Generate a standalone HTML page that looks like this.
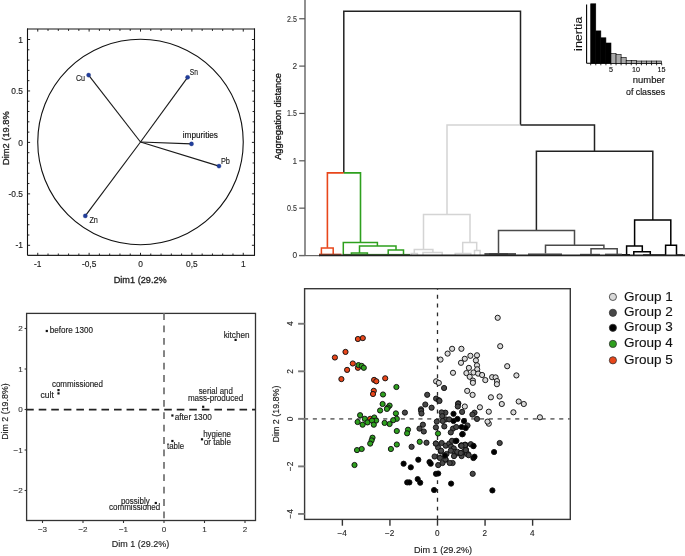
<!DOCTYPE html>
<html><head><meta charset="utf-8"><style>
html,body{margin:0;padding:0;background:#fff;}
svg{display:block;font-family:"Liberation Sans", sans-serif;will-change:transform;}
</style></head><body>
<svg width="685" height="556" viewBox="0 0 685 556">
<rect width="685" height="556" fill="#fff"/>
<line x1="27.00" y1="29.00" x2="255.00" y2="29.00" stroke="#8a8a8a" stroke-width="2.0"/>
<line x1="27.50" y1="28.50" x2="27.50" y2="255.40" stroke="#111" stroke-width="1.1"/>
<line x1="254.50" y1="28.50" x2="254.50" y2="255.40" stroke="#111" stroke-width="1.1"/>
<line x1="27.50" y1="255.40" x2="255.00" y2="255.40" stroke="#222" stroke-width="1.3"/>
<line x1="37.75" y1="29.00" x2="37.75" y2="31.60" stroke="#222" stroke-width="1"/>
<line x1="37.75" y1="255.40" x2="37.75" y2="252.80" stroke="#222" stroke-width="1"/>
<line x1="27.50" y1="245.30" x2="30.10" y2="245.30" stroke="#222" stroke-width="1"/>
<line x1="254.50" y1="245.30" x2="251.90" y2="245.30" stroke="#222" stroke-width="1"/>
<line x1="48.02" y1="29.00" x2="48.02" y2="30.90" stroke="#222" stroke-width="1"/>
<line x1="48.02" y1="255.40" x2="48.02" y2="253.50" stroke="#222" stroke-width="1"/>
<line x1="27.50" y1="235.01" x2="29.40" y2="235.01" stroke="#222" stroke-width="1"/>
<line x1="254.50" y1="235.01" x2="252.60" y2="235.01" stroke="#222" stroke-width="1"/>
<line x1="58.30" y1="29.00" x2="58.30" y2="30.90" stroke="#222" stroke-width="1"/>
<line x1="58.30" y1="255.40" x2="58.30" y2="253.50" stroke="#222" stroke-width="1"/>
<line x1="27.50" y1="224.72" x2="29.40" y2="224.72" stroke="#222" stroke-width="1"/>
<line x1="254.50" y1="224.72" x2="252.60" y2="224.72" stroke="#222" stroke-width="1"/>
<line x1="68.57" y1="29.00" x2="68.57" y2="30.90" stroke="#222" stroke-width="1"/>
<line x1="68.57" y1="255.40" x2="68.57" y2="253.50" stroke="#222" stroke-width="1"/>
<line x1="27.50" y1="214.43" x2="29.40" y2="214.43" stroke="#222" stroke-width="1"/>
<line x1="254.50" y1="214.43" x2="252.60" y2="214.43" stroke="#222" stroke-width="1"/>
<line x1="78.85" y1="29.00" x2="78.85" y2="30.90" stroke="#222" stroke-width="1"/>
<line x1="78.85" y1="255.40" x2="78.85" y2="253.50" stroke="#222" stroke-width="1"/>
<line x1="27.50" y1="204.14" x2="29.40" y2="204.14" stroke="#222" stroke-width="1"/>
<line x1="254.50" y1="204.14" x2="252.60" y2="204.14" stroke="#222" stroke-width="1"/>
<line x1="89.12" y1="29.00" x2="89.12" y2="31.60" stroke="#222" stroke-width="1"/>
<line x1="89.12" y1="255.40" x2="89.12" y2="252.80" stroke="#222" stroke-width="1"/>
<line x1="27.50" y1="193.85" x2="30.10" y2="193.85" stroke="#222" stroke-width="1"/>
<line x1="254.50" y1="193.85" x2="251.90" y2="193.85" stroke="#222" stroke-width="1"/>
<line x1="99.40" y1="29.00" x2="99.40" y2="30.90" stroke="#222" stroke-width="1"/>
<line x1="99.40" y1="255.40" x2="99.40" y2="253.50" stroke="#222" stroke-width="1"/>
<line x1="27.50" y1="183.56" x2="29.40" y2="183.56" stroke="#222" stroke-width="1"/>
<line x1="254.50" y1="183.56" x2="252.60" y2="183.56" stroke="#222" stroke-width="1"/>
<line x1="109.67" y1="29.00" x2="109.67" y2="30.90" stroke="#222" stroke-width="1"/>
<line x1="109.67" y1="255.40" x2="109.67" y2="253.50" stroke="#222" stroke-width="1"/>
<line x1="27.50" y1="173.27" x2="29.40" y2="173.27" stroke="#222" stroke-width="1"/>
<line x1="254.50" y1="173.27" x2="252.60" y2="173.27" stroke="#222" stroke-width="1"/>
<line x1="119.95" y1="29.00" x2="119.95" y2="30.90" stroke="#222" stroke-width="1"/>
<line x1="119.95" y1="255.40" x2="119.95" y2="253.50" stroke="#222" stroke-width="1"/>
<line x1="27.50" y1="162.98" x2="29.40" y2="162.98" stroke="#222" stroke-width="1"/>
<line x1="254.50" y1="162.98" x2="252.60" y2="162.98" stroke="#222" stroke-width="1"/>
<line x1="130.22" y1="29.00" x2="130.22" y2="30.90" stroke="#222" stroke-width="1"/>
<line x1="130.22" y1="255.40" x2="130.22" y2="253.50" stroke="#222" stroke-width="1"/>
<line x1="27.50" y1="152.69" x2="29.40" y2="152.69" stroke="#222" stroke-width="1"/>
<line x1="254.50" y1="152.69" x2="252.60" y2="152.69" stroke="#222" stroke-width="1"/>
<line x1="140.50" y1="29.00" x2="140.50" y2="31.60" stroke="#222" stroke-width="1"/>
<line x1="140.50" y1="255.40" x2="140.50" y2="252.80" stroke="#222" stroke-width="1"/>
<line x1="27.50" y1="142.40" x2="30.10" y2="142.40" stroke="#222" stroke-width="1"/>
<line x1="254.50" y1="142.40" x2="251.90" y2="142.40" stroke="#222" stroke-width="1"/>
<line x1="150.78" y1="29.00" x2="150.78" y2="30.90" stroke="#222" stroke-width="1"/>
<line x1="150.78" y1="255.40" x2="150.78" y2="253.50" stroke="#222" stroke-width="1"/>
<line x1="27.50" y1="132.11" x2="29.40" y2="132.11" stroke="#222" stroke-width="1"/>
<line x1="254.50" y1="132.11" x2="252.60" y2="132.11" stroke="#222" stroke-width="1"/>
<line x1="161.05" y1="29.00" x2="161.05" y2="30.90" stroke="#222" stroke-width="1"/>
<line x1="161.05" y1="255.40" x2="161.05" y2="253.50" stroke="#222" stroke-width="1"/>
<line x1="27.50" y1="121.82" x2="29.40" y2="121.82" stroke="#222" stroke-width="1"/>
<line x1="254.50" y1="121.82" x2="252.60" y2="121.82" stroke="#222" stroke-width="1"/>
<line x1="171.32" y1="29.00" x2="171.32" y2="30.90" stroke="#222" stroke-width="1"/>
<line x1="171.32" y1="255.40" x2="171.32" y2="253.50" stroke="#222" stroke-width="1"/>
<line x1="27.50" y1="111.53" x2="29.40" y2="111.53" stroke="#222" stroke-width="1"/>
<line x1="254.50" y1="111.53" x2="252.60" y2="111.53" stroke="#222" stroke-width="1"/>
<line x1="181.60" y1="29.00" x2="181.60" y2="30.90" stroke="#222" stroke-width="1"/>
<line x1="181.60" y1="255.40" x2="181.60" y2="253.50" stroke="#222" stroke-width="1"/>
<line x1="27.50" y1="101.24" x2="29.40" y2="101.24" stroke="#222" stroke-width="1"/>
<line x1="254.50" y1="101.24" x2="252.60" y2="101.24" stroke="#222" stroke-width="1"/>
<line x1="191.88" y1="29.00" x2="191.88" y2="31.60" stroke="#222" stroke-width="1"/>
<line x1="191.88" y1="255.40" x2="191.88" y2="252.80" stroke="#222" stroke-width="1"/>
<line x1="27.50" y1="90.95" x2="30.10" y2="90.95" stroke="#222" stroke-width="1"/>
<line x1="254.50" y1="90.95" x2="251.90" y2="90.95" stroke="#222" stroke-width="1"/>
<line x1="202.15" y1="29.00" x2="202.15" y2="30.90" stroke="#222" stroke-width="1"/>
<line x1="202.15" y1="255.40" x2="202.15" y2="253.50" stroke="#222" stroke-width="1"/>
<line x1="27.50" y1="80.66" x2="29.40" y2="80.66" stroke="#222" stroke-width="1"/>
<line x1="254.50" y1="80.66" x2="252.60" y2="80.66" stroke="#222" stroke-width="1"/>
<line x1="212.43" y1="29.00" x2="212.43" y2="30.90" stroke="#222" stroke-width="1"/>
<line x1="212.43" y1="255.40" x2="212.43" y2="253.50" stroke="#222" stroke-width="1"/>
<line x1="27.50" y1="70.37" x2="29.40" y2="70.37" stroke="#222" stroke-width="1"/>
<line x1="254.50" y1="70.37" x2="252.60" y2="70.37" stroke="#222" stroke-width="1"/>
<line x1="222.70" y1="29.00" x2="222.70" y2="30.90" stroke="#222" stroke-width="1"/>
<line x1="222.70" y1="255.40" x2="222.70" y2="253.50" stroke="#222" stroke-width="1"/>
<line x1="27.50" y1="60.08" x2="29.40" y2="60.08" stroke="#222" stroke-width="1"/>
<line x1="254.50" y1="60.08" x2="252.60" y2="60.08" stroke="#222" stroke-width="1"/>
<line x1="232.98" y1="29.00" x2="232.98" y2="30.90" stroke="#222" stroke-width="1"/>
<line x1="232.98" y1="255.40" x2="232.98" y2="253.50" stroke="#222" stroke-width="1"/>
<line x1="27.50" y1="49.79" x2="29.40" y2="49.79" stroke="#222" stroke-width="1"/>
<line x1="254.50" y1="49.79" x2="252.60" y2="49.79" stroke="#222" stroke-width="1"/>
<line x1="243.25" y1="29.00" x2="243.25" y2="31.60" stroke="#222" stroke-width="1"/>
<line x1="243.25" y1="255.40" x2="243.25" y2="252.80" stroke="#222" stroke-width="1"/>
<line x1="27.50" y1="39.50" x2="30.10" y2="39.50" stroke="#222" stroke-width="1"/>
<line x1="254.50" y1="39.50" x2="251.90" y2="39.50" stroke="#222" stroke-width="1"/>
<circle cx="140.5" cy="142.0" r="102.75" fill="none" stroke="#111" stroke-width="1.1"/>
<line x1="140.50" y1="142.00" x2="88.60" y2="75.10" stroke="#1a1a1a" stroke-width="1.15"/>
<line x1="140.50" y1="142.00" x2="187.60" y2="77.30" stroke="#1a1a1a" stroke-width="1.15"/>
<line x1="140.50" y1="142.00" x2="191.50" y2="143.90" stroke="#1a1a1a" stroke-width="1.15"/>
<line x1="140.50" y1="142.00" x2="219.00" y2="166.10" stroke="#1a1a1a" stroke-width="1.15"/>
<line x1="140.50" y1="142.00" x2="85.30" y2="215.90" stroke="#1a1a1a" stroke-width="1.15"/>
<circle cx="88.6" cy="75.1" r="2.1" fill="#213e9c" stroke="#172d78" stroke-width="0.3"/>
<circle cx="187.6" cy="77.3" r="2.1" fill="#213e9c" stroke="#172d78" stroke-width="0.3"/>
<circle cx="191.5" cy="143.9" r="2.1" fill="#213e9c" stroke="#172d78" stroke-width="0.3"/>
<circle cx="219" cy="166.1" r="2.1" fill="#213e9c" stroke="#172d78" stroke-width="0.3"/>
<circle cx="85.3" cy="215.9" r="2.1" fill="#213e9c" stroke="#172d78" stroke-width="0.3"/>
<text x="75.9" y="80.9" font-size="8.6" textLength="9.2" lengthAdjust="spacingAndGlyphs" fill="#222" stroke="#222" stroke-width="0.15">Cu</text>
<text x="189.8" y="74.9" font-size="8.6" textLength="8.2" lengthAdjust="spacingAndGlyphs" fill="#222" stroke="#222" stroke-width="0.15">Sn</text>
<text x="182.8" y="137.8" font-size="8.2" textLength="35.2" lengthAdjust="spacingAndGlyphs" fill="#111" stroke="#111" stroke-width="0.15">impurities</text>
<text x="220.9" y="163.7" font-size="8.6" textLength="9.0" lengthAdjust="spacingAndGlyphs" fill="#222" stroke="#222" stroke-width="0.15">Pb</text>
<text x="89.4" y="222.6" font-size="8.6" textLength="8.5" lengthAdjust="spacingAndGlyphs" fill="#222" stroke="#222" stroke-width="0.15">Zn</text>
<text x="23.0" y="42.6" font-size="8.4" text-anchor="end" fill="#222" stroke="#222" stroke-width="0.15">1</text>
<text x="23.0" y="94.05" font-size="8.4" text-anchor="end" fill="#222" stroke="#222" stroke-width="0.15">0.5</text>
<text x="23.0" y="145.5" font-size="8.4" text-anchor="end" fill="#222" stroke="#222" stroke-width="0.15">0</text>
<text x="23.0" y="196.95000000000002" font-size="8.4" text-anchor="end" fill="#222" stroke="#222" stroke-width="0.15">-0.5</text>
<text x="23.0" y="248.4" font-size="8.4" text-anchor="end" fill="#222" stroke="#222" stroke-width="0.15">-1</text>
<text x="37.75" y="267.0" font-size="8.4" text-anchor="middle" fill="#222" stroke="#222" stroke-width="0.15">-1</text>
<text x="89.125" y="267.0" font-size="8.4" text-anchor="middle" fill="#222" stroke="#222" stroke-width="0.15">-0,5</text>
<text x="140.5" y="267.0" font-size="8.4" text-anchor="middle" fill="#222" stroke="#222" stroke-width="0.15">0</text>
<text x="191.875" y="267.0" font-size="8.4" text-anchor="middle" fill="#222" stroke="#222" stroke-width="0.15">0,5</text>
<text x="243.25" y="267.0" font-size="8.4" text-anchor="middle" fill="#222" stroke="#222" stroke-width="0.15">1</text>
<text x="113.7" y="282.6" font-size="9.2" textLength="53" lengthAdjust="spacingAndGlyphs" fill="#222" stroke="#222" stroke-width="0.3">Dim1 (29.2%</text>
<text transform="translate(8.9,164.9) rotate(-90)" x="0" y="0" font-size="9.3" textLength="53.6" lengthAdjust="spacingAndGlyphs" fill="#222" stroke="#222" stroke-width="0.3">Dim2 (19.8%</text>
<line x1="305.00" y1="0.00" x2="305.00" y2="256.00" stroke="#555" stroke-width="1.3"/>
<line x1="299.20" y1="255.50" x2="305.00" y2="255.50" stroke="#555" stroke-width="1.2"/>
<text x="297.0" y="258.4" font-size="8.3" text-anchor="end" fill="#333" stroke="#333" stroke-width="0.1">0</text>
<line x1="299.20" y1="208.15" x2="305.00" y2="208.15" stroke="#555" stroke-width="1.2"/>
<text x="297.0" y="211.05" font-size="8.3" text-anchor="end" textLength="9.9" lengthAdjust="spacingAndGlyphs" fill="#333" stroke="#333" stroke-width="0.1">0.5</text>
<line x1="299.20" y1="160.80" x2="305.00" y2="160.80" stroke="#555" stroke-width="1.2"/>
<text x="297.0" y="163.70000000000002" font-size="8.3" text-anchor="end" fill="#333" stroke="#333" stroke-width="0.1">1</text>
<line x1="299.20" y1="113.45" x2="305.00" y2="113.45" stroke="#555" stroke-width="1.2"/>
<text x="297.0" y="116.35" font-size="8.3" text-anchor="end" textLength="9.9" lengthAdjust="spacingAndGlyphs" fill="#333" stroke="#333" stroke-width="0.1">1.5</text>
<line x1="299.20" y1="66.10" x2="305.00" y2="66.10" stroke="#555" stroke-width="1.2"/>
<text x="297.0" y="69.0" font-size="8.3" text-anchor="end" fill="#333" stroke="#333" stroke-width="0.1">2</text>
<line x1="299.20" y1="18.75" x2="305.00" y2="18.75" stroke="#555" stroke-width="1.2"/>
<text x="297.0" y="21.65" font-size="8.3" text-anchor="end" textLength="9.9" lengthAdjust="spacingAndGlyphs" fill="#333" stroke="#333" stroke-width="0.1">2.5</text>
<text transform="translate(280.9,159.8) rotate(-90)" x="0" y="0" font-size="9.5" textLength="86.8" lengthAdjust="spacingAndGlyphs" fill="#111" stroke="#111" stroke-width="0.3">Aggregation distance</text>
<line x1="299.20" y1="255.60" x2="320.00" y2="255.60" stroke="#666" stroke-width="1.2"/>
<path d="M343.8,172.9 V11.2 H520.5 V125" fill="none" stroke="#222" stroke-width="1.5"/>
<path d="M327.4,247.7 V172.9 H343.8" fill="none" stroke="#e8461a" stroke-width="1.6"/>
<path d="M343.8,172.9 H360.5 V242.4" fill="none" stroke="#2ea01e" stroke-width="1.6"/>
<path d="M321.4,254 V247.9 H333.2 V254" fill="none" stroke="#e8461a" stroke-width="1.5"/>
<rect x="319" y="253.6" width="22.5" height="2.00" fill="#c0401c" opacity="0.9"/>
<path d="M343.3,255 V242.4 H377.4 V246.1" fill="none" stroke="#2ea01e" stroke-width="1.5"/>
<path d="M359.5,252.9 V246.1 H396.0 V249.9" fill="none" stroke="#2ea01e" stroke-width="1.5"/>
<path d="M351.4,254.5 V252.9 H367.4 V254.5" fill="none" stroke="#2ea01e" stroke-width="1.5"/>
<path d="M388.2,254.5 V249.9 H403.5 V254.5" fill="none" stroke="#2ea01e" stroke-width="1.5"/>
<rect x="343" y="253.9" width="67" height="1.70" fill="#2b7a1c" opacity="0.9"/>
<path d="M447,214.5 V125 H520.5" fill="none" stroke="#d4d4d4" stroke-width="1.5"/>
<path d="M423.5,249.6 V214.5 H470.0 V242.4" fill="none" stroke="#d4d4d4" stroke-width="1.5"/>
<path d="M414.3,253.4 V249.6 H432.9 V252.4" fill="none" stroke="#d4d4d4" stroke-width="1.5"/>
<path d="M411.2,255 V253.4 H417.4 V255" fill="none" stroke="#d4d4d4" stroke-width="1.5"/>
<path d="M423,255 V252.4 H442.2 V255" fill="none" stroke="#d4d4d4" stroke-width="1.5"/>
<path d="M462.7,253.4 V242.4 H476.7 V250.5" fill="none" stroke="#d4d4d4" stroke-width="1.5"/>
<path d="M455.2,255 V253.4 H470.8 V255" fill="none" stroke="#d4d4d4" stroke-width="1.5"/>
<path d="M474.5,255 V250.5 H480.1 V255" fill="none" stroke="#d4d4d4" stroke-width="1.5"/>
<path d="M520.5,125 H594.5 V151.3" fill="none" stroke="#222" stroke-width="1.5"/>
<path d="M536.4,230.5 V151.3 H652.8 V220" fill="none" stroke="#222" stroke-width="1.5"/>
<path d="M498.5,253.5 V230.5 H574.5 V245.3" fill="none" stroke="#4a4a4a" stroke-width="1.5"/>
<path d="M545.5,253.5 V245.3 H603.9 V248.7" fill="none" stroke="#4a4a4a" stroke-width="1.5"/>
<path d="M591.0,254 V248.7 H617.2 V254" fill="none" stroke="#4a4a4a" stroke-width="1.5"/>
<rect x="484.4" y="253.0" width="31.600000000000023" height="2.60" fill="#5a5a5a" opacity="1"/>
<rect x="489" y="253.0" width="19" height="2.60" fill="#444" opacity="1"/>
<rect x="528" y="253.4" width="34" height="2.20" fill="#5a5a5a" opacity="1"/>
<rect x="580" y="253.8" width="20" height="1.80" fill="#5a5a5a" opacity="1"/>
<rect x="605" y="253.6" width="17" height="2.00" fill="#5a5a5a" opacity="1"/>
<path d="M634.6,246.1 V220.0 H670.8 V245.3" fill="none" stroke="#000" stroke-width="1.5"/>
<path d="M626.6,255.3 V246.1 H642.3 V251.8" fill="none" stroke="#000" stroke-width="1.5"/>
<path d="M665.6,255.3 V245.3 H676.5 V255.3" fill="none" stroke="#000" stroke-width="1.5"/>
<path d="M633.8,255.3 V251.8 H650.3 V255.3" fill="none" stroke="#000" stroke-width="1.5"/>
<rect x="622" y="254.0" width="8" height="1.60" fill="#111" opacity="1"/>
<rect x="643" y="254.2" width="22" height="1.40" fill="#222" opacity="1"/>
<rect x="676" y="254.2" width="7" height="1.40" fill="#222" opacity="1"/>
<line x1="319.00" y1="255.40" x2="685.00" y2="255.40" stroke="#222" stroke-width="1.6"/>
<line x1="586.60" y1="4.40" x2="586.60" y2="63.30" stroke="#000" stroke-width="1.1"/>
<line x1="586.60" y1="63.30" x2="661.80" y2="63.30" stroke="#000" stroke-width="1.1"/>
<rect x="590.70" y="3.8" width="5.07" height="59.50" fill="#000" stroke="#000" stroke-width="0.6"/>
<rect x="595.77" y="30.9" width="5.07" height="32.40" fill="#000" stroke="#000" stroke-width="0.6"/>
<rect x="600.84" y="37.8" width="5.07" height="25.50" fill="#000" stroke="#000" stroke-width="0.6"/>
<rect x="605.91" y="43.0" width="5.07" height="20.30" fill="#000" stroke="#000" stroke-width="0.6"/>
<rect x="610.98" y="53.5" width="5.07" height="9.80" fill="#a8a8a8" stroke="#000" stroke-width="0.6"/>
<rect x="616.05" y="54.5" width="5.07" height="8.80" fill="#a8a8a8" stroke="#000" stroke-width="0.6"/>
<rect x="621.12" y="57.3" width="5.07" height="6.00" fill="#a8a8a8" stroke="#000" stroke-width="0.6"/>
<rect x="626.19" y="60.3" width="5.07" height="3.00" fill="#a8a8a8" stroke="#000" stroke-width="0.6"/>
<rect x="631.26" y="60.3" width="5.07" height="3.00" fill="#a8a8a8" stroke="#000" stroke-width="0.6"/>
<rect x="636.33" y="61" width="5.07" height="2.30" fill="#a8a8a8" stroke="#000" stroke-width="0.6"/>
<rect x="641.40" y="61" width="5.07" height="2.30" fill="#a8a8a8" stroke="#000" stroke-width="0.6"/>
<rect x="646.47" y="61" width="5.07" height="2.30" fill="#a8a8a8" stroke="#000" stroke-width="0.6"/>
<rect x="651.54" y="61" width="5.07" height="2.30" fill="#a8a8a8" stroke="#000" stroke-width="0.6"/>
<rect x="656.61" y="61" width="5.07" height="2.30" fill="#a8a8a8" stroke="#000" stroke-width="0.6"/>
<line x1="590.70" y1="63.30" x2="590.70" y2="65.30" stroke="#000" stroke-width="0.8"/>
<line x1="595.77" y1="63.30" x2="595.77" y2="65.30" stroke="#000" stroke-width="0.8"/>
<line x1="600.84" y1="63.30" x2="600.84" y2="65.30" stroke="#000" stroke-width="0.8"/>
<line x1="605.91" y1="63.30" x2="605.91" y2="65.30" stroke="#000" stroke-width="0.8"/>
<line x1="610.98" y1="63.30" x2="610.98" y2="65.30" stroke="#000" stroke-width="0.8"/>
<line x1="616.05" y1="63.30" x2="616.05" y2="65.30" stroke="#000" stroke-width="0.8"/>
<line x1="621.12" y1="63.30" x2="621.12" y2="65.30" stroke="#000" stroke-width="0.8"/>
<line x1="626.19" y1="63.30" x2="626.19" y2="65.30" stroke="#000" stroke-width="0.8"/>
<line x1="631.26" y1="63.30" x2="631.26" y2="65.30" stroke="#000" stroke-width="0.8"/>
<line x1="636.33" y1="63.30" x2="636.33" y2="65.30" stroke="#000" stroke-width="0.8"/>
<line x1="641.40" y1="63.30" x2="641.40" y2="65.30" stroke="#000" stroke-width="0.8"/>
<line x1="646.47" y1="63.30" x2="646.47" y2="65.30" stroke="#000" stroke-width="0.8"/>
<line x1="651.54" y1="63.30" x2="651.54" y2="65.30" stroke="#000" stroke-width="0.8"/>
<line x1="656.61" y1="63.30" x2="656.61" y2="65.30" stroke="#000" stroke-width="0.8"/>
<line x1="661.68" y1="63.30" x2="661.68" y2="65.30" stroke="#000" stroke-width="0.8"/>
<text x="611.1" y="72.4" font-size="7.2" text-anchor="middle" fill="#111" stroke="#111" stroke-width="0.15">5</text>
<text x="636.0" y="72.4" font-size="7.2" text-anchor="middle" fill="#111" stroke="#111" stroke-width="0.15">10</text>
<text x="661.6" y="72.4" font-size="7.2" text-anchor="middle" fill="#111" stroke="#111" stroke-width="0.15">15</text>
<text x="664.8" y="82.5" font-size="9.2" text-anchor="end" textLength="32" lengthAdjust="spacingAndGlyphs" fill="#111" stroke="#111" stroke-width="0.15">number</text>
<text x="665.1" y="95.0" font-size="9.2" text-anchor="end" textLength="39.1" lengthAdjust="spacingAndGlyphs" fill="#111" stroke="#111" stroke-width="0.15">of classes</text>
<text transform="translate(581.9,50.9) rotate(-90)" x="0" y="0" font-size="10.5" textLength="34.2" lengthAdjust="spacingAndGlyphs" fill="#111" stroke="#111" stroke-width="0.08">inertia</text>
<rect x="26.6" y="313.4" width="228.9" height="207.1" fill="none" stroke="#333" stroke-width="1.3"/>
<line x1="164.00" y1="313.10" x2="164.00" y2="520.60" stroke="#666" stroke-width="1.6" stroke-dasharray="6.8 5.6"/>
<line x1="26.15" y1="409.60" x2="255.00" y2="409.60" stroke="#222" stroke-width="1.6" stroke-dasharray="7.6 4.95"/>
<line x1="24.60" y1="328.50" x2="26.60" y2="328.50" stroke="#333" stroke-width="1.1"/>
<text x="22.8" y="331.0" font-size="8.1" text-anchor="end" fill="#333" stroke="#333" stroke-width="0.12">2</text>
<line x1="24.60" y1="369.00" x2="26.60" y2="369.00" stroke="#333" stroke-width="1.1"/>
<text x="22.8" y="371.5" font-size="8.1" text-anchor="end" fill="#333" stroke="#333" stroke-width="0.12">1</text>
<line x1="24.60" y1="409.50" x2="26.60" y2="409.50" stroke="#333" stroke-width="1.1"/>
<text x="22.8" y="412.0" font-size="8.1" text-anchor="end" fill="#333" stroke="#333" stroke-width="0.12">0</text>
<line x1="24.60" y1="450.00" x2="26.60" y2="450.00" stroke="#333" stroke-width="1.1"/>
<text x="22.8" y="452.5" font-size="8.1" text-anchor="end" fill="#333" stroke="#333" stroke-width="0.12">−1</text>
<line x1="24.60" y1="490.50" x2="26.60" y2="490.50" stroke="#333" stroke-width="1.1"/>
<text x="22.8" y="493.0" font-size="8.1" text-anchor="end" fill="#333" stroke="#333" stroke-width="0.12">−2</text>
<line x1="42.50" y1="520.60" x2="42.50" y2="523.00" stroke="#333" stroke-width="1.1"/>
<text x="42.5" y="531.6" font-size="8.1" text-anchor="middle" fill="#333" stroke="#333" stroke-width="0.12">−3</text>
<line x1="83.00" y1="520.60" x2="83.00" y2="523.00" stroke="#333" stroke-width="1.1"/>
<text x="83.0" y="531.6" font-size="8.1" text-anchor="middle" fill="#333" stroke="#333" stroke-width="0.12">−2</text>
<line x1="123.50" y1="520.60" x2="123.50" y2="523.00" stroke="#333" stroke-width="1.1"/>
<text x="123.5" y="531.6" font-size="8.1" text-anchor="middle" fill="#333" stroke="#333" stroke-width="0.12">−1</text>
<line x1="164.00" y1="520.60" x2="164.00" y2="523.00" stroke="#333" stroke-width="1.1"/>
<text x="164.0" y="531.6" font-size="8.1" text-anchor="middle" fill="#333" stroke="#333" stroke-width="0.12">0</text>
<line x1="204.50" y1="520.60" x2="204.50" y2="523.00" stroke="#333" stroke-width="1.1"/>
<text x="204.5" y="531.6" font-size="8.1" text-anchor="middle" fill="#333" stroke="#333" stroke-width="0.12">1</text>
<line x1="245.00" y1="520.60" x2="245.00" y2="523.00" stroke="#333" stroke-width="1.1"/>
<text x="245.0" y="531.6" font-size="8.1" text-anchor="middle" fill="#333" stroke="#333" stroke-width="0.12">2</text>
<text x="111.7" y="547.4" font-size="8.8" textLength="57.5" lengthAdjust="spacingAndGlyphs" fill="#222" stroke="#222" stroke-width="0.15">Dim 1 (29.2%)</text>
<text transform="translate(8.1,439.8) rotate(-90)" x="0" y="0" font-size="8.9" textLength="56.5" lengthAdjust="spacingAndGlyphs" fill="#222" stroke="#222" stroke-width="0.15">Dim 2 (19.8%)</text>
<rect x="45.70" y="329.90" width="2.2" height="2.2" fill="#111"/>
<rect x="234.50" y="338.80" width="2.2" height="2.2" fill="#111"/>
<rect x="57.40" y="389.00" width="2.2" height="2.2" fill="#111"/>
<rect x="57.40" y="392.30" width="2.2" height="2.2" fill="#111"/>
<rect x="202.10" y="405.70" width="2.2" height="2.2" fill="#111"/>
<rect x="171.30" y="414.40" width="2.2" height="2.2" fill="#111"/>
<rect x="200.90" y="438.20" width="2.2" height="2.2" fill="#111"/>
<rect x="171.30" y="439.90" width="2.2" height="2.2" fill="#111"/>
<rect x="154.70" y="501.90" width="2.2" height="2.2" fill="#111"/>
<text x="49.8" y="333.2" font-size="8.4" textLength="43.2" lengthAdjust="spacingAndGlyphs" fill="#222" stroke="#222" stroke-width="0.15">before 1300</text>
<text x="223.7" y="337.5" font-size="8.4" textLength="25.9" lengthAdjust="spacingAndGlyphs" fill="#222" stroke="#222" stroke-width="0.15">kitchen</text>
<text x="51.9" y="386.5" font-size="8.4" textLength="51.1" lengthAdjust="spacingAndGlyphs" fill="#222" stroke="#222" stroke-width="0.15">commissioned</text>
<text x="40.6" y="397.8" font-size="8.4" textLength="13.3" lengthAdjust="spacingAndGlyphs" fill="#222" stroke="#222" stroke-width="0.15">cult</text>
<text x="198.7" y="393.6" font-size="8.4" textLength="34.1" lengthAdjust="spacingAndGlyphs" fill="#222" stroke="#222" stroke-width="0.15">serial and</text>
<text x="187.9" y="400.5" font-size="8.4" textLength="55.3" lengthAdjust="spacingAndGlyphs" fill="#222" stroke="#222" stroke-width="0.15">mass-produced</text>
<text x="174.7" y="419.8" font-size="8.4" textLength="37.2" lengthAdjust="spacingAndGlyphs" fill="#222" stroke="#222" stroke-width="0.15">after 1300</text>
<text x="203.2" y="437.1" font-size="8.4" textLength="27.8" lengthAdjust="spacingAndGlyphs" fill="#222" stroke="#222" stroke-width="0.15">hygiene</text>
<text x="203.7" y="445.0" font-size="8.4" textLength="27.3" lengthAdjust="spacingAndGlyphs" fill="#222" stroke="#222" stroke-width="0.15">or table</text>
<text x="167" y="448.7" font-size="8.4" textLength="17.2" lengthAdjust="spacingAndGlyphs" fill="#222" stroke="#222" stroke-width="0.15">table</text>
<text x="120.9" y="504.0" font-size="8.4" textLength="28.9" lengthAdjust="spacingAndGlyphs" fill="#222" stroke="#222" stroke-width="0.15">possibly</text>
<text x="109" y="510.40000000000003" font-size="8.4" textLength="51.3" lengthAdjust="spacingAndGlyphs" fill="#222" stroke="#222" stroke-width="0.15">commissioned</text>
<rect x="304.6" y="288.7" width="265.7" height="230.7" fill="none" stroke="#383838" stroke-width="1.4"/>
<line x1="437.50" y1="519.40" x2="437.50" y2="289.00" stroke="#2a2a2a" stroke-width="1.3" stroke-dasharray="3.9 4.93"/>
<line x1="304.00" y1="418.85" x2="570.00" y2="418.85" stroke="#777" stroke-width="1.8" stroke-dasharray="4.1 4.7"/>
<line x1="342.38" y1="519.40" x2="342.38" y2="525.70" stroke="#333" stroke-width="1.4"/>
<text x="342.08" y="535.8" font-size="8.2" text-anchor="middle" fill="#222" stroke="#222" stroke-width="0.12">−4</text>
<line x1="298.10" y1="513.93" x2="304.60" y2="513.93" stroke="#7a7a7a" stroke-width="1.9"/>
<text transform="translate(292.9,513.93) rotate(-90)" x="0" y="0" font-size="8.4" text-anchor="middle" fill="#222" stroke="#222" stroke-width="0.12">−4</text>
<line x1="389.94" y1="519.40" x2="389.94" y2="525.70" stroke="#333" stroke-width="1.4"/>
<text x="389.64" y="535.8" font-size="8.2" text-anchor="middle" fill="#222" stroke="#222" stroke-width="0.12">−2</text>
<line x1="298.10" y1="466.39" x2="304.60" y2="466.39" stroke="#7a7a7a" stroke-width="1.9"/>
<text transform="translate(292.9,466.39) rotate(-90)" x="0" y="0" font-size="8.4" text-anchor="middle" fill="#222" stroke="#222" stroke-width="0.12">−2</text>
<line x1="437.50" y1="519.40" x2="437.50" y2="525.70" stroke="#333" stroke-width="1.4"/>
<text x="437.2" y="535.8" font-size="8.2" text-anchor="middle" fill="#222" stroke="#222" stroke-width="0.12">0</text>
<line x1="298.10" y1="418.85" x2="304.60" y2="418.85" stroke="#7a7a7a" stroke-width="1.9"/>
<text transform="translate(292.9,418.85) rotate(-90)" x="0" y="0" font-size="8.4" text-anchor="middle" fill="#222" stroke="#222" stroke-width="0.12">0</text>
<line x1="485.06" y1="519.40" x2="485.06" y2="525.70" stroke="#333" stroke-width="1.4"/>
<text x="484.76" y="535.8" font-size="8.2" text-anchor="middle" fill="#222" stroke="#222" stroke-width="0.12">2</text>
<line x1="298.10" y1="371.31" x2="304.60" y2="371.31" stroke="#7a7a7a" stroke-width="1.9"/>
<text transform="translate(292.9,371.31) rotate(-90)" x="0" y="0" font-size="8.4" text-anchor="middle" fill="#222" stroke="#222" stroke-width="0.12">2</text>
<line x1="532.62" y1="519.40" x2="532.62" y2="525.70" stroke="#333" stroke-width="1.4"/>
<text x="532.32" y="535.8" font-size="8.2" text-anchor="middle" fill="#222" stroke="#222" stroke-width="0.12">4</text>
<line x1="298.10" y1="323.77" x2="304.60" y2="323.77" stroke="#7a7a7a" stroke-width="1.9"/>
<text transform="translate(292.9,323.77) rotate(-90)" x="0" y="0" font-size="8.4" text-anchor="middle" fill="#222" stroke="#222" stroke-width="0.12">4</text>
<text x="413.9" y="552.7" font-size="8.6" textLength="58.2" lengthAdjust="spacingAndGlyphs" fill="#222" stroke="#222" stroke-width="0.15">Dim 1 (29.2%)</text>
<text transform="translate(279.3,442.4) rotate(-90)" x="0" y="0" font-size="8.8" textLength="56.8" lengthAdjust="spacingAndGlyphs" fill="#222" stroke="#222" stroke-width="0.15">Dim 2 (19.8%)</text>
<circle cx="497.7" cy="317.8" r="2.6" fill="#d9d9d9" stroke="#111" stroke-width="0.95"/>
<circle cx="452.1" cy="348.8" r="2.6" fill="#d9d9d9" stroke="#111" stroke-width="0.95"/>
<circle cx="461.4" cy="348.8" r="2.6" fill="#d9d9d9" stroke="#111" stroke-width="0.95"/>
<circle cx="500.2" cy="346.2" r="2.6" fill="#d9d9d9" stroke="#111" stroke-width="0.95"/>
<circle cx="447.6" cy="353.6" r="2.6" fill="#d9d9d9" stroke="#111" stroke-width="0.95"/>
<circle cx="440.5" cy="359.6" r="2.6" fill="#d9d9d9" stroke="#111" stroke-width="0.95"/>
<circle cx="464.8" cy="358.8" r="2.6" fill="#d9d9d9" stroke="#111" stroke-width="0.95"/>
<circle cx="461" cy="362.8" r="2.6" fill="#d9d9d9" stroke="#111" stroke-width="0.95"/>
<circle cx="470.4" cy="355.8" r="2.6" fill="#d9d9d9" stroke="#111" stroke-width="0.95"/>
<circle cx="477" cy="355.3" r="2.6" fill="#d9d9d9" stroke="#111" stroke-width="0.95"/>
<circle cx="475.9" cy="360.4" r="2.6" fill="#d9d9d9" stroke="#111" stroke-width="0.95"/>
<circle cx="477" cy="365.3" r="2.6" fill="#d9d9d9" stroke="#111" stroke-width="0.95"/>
<circle cx="468.9" cy="367.9" r="2.6" fill="#d9d9d9" stroke="#111" stroke-width="0.95"/>
<circle cx="477.2" cy="369.3" r="2.6" fill="#d9d9d9" stroke="#111" stroke-width="0.95"/>
<circle cx="466.4" cy="373.1" r="2.6" fill="#d9d9d9" stroke="#111" stroke-width="0.95"/>
<circle cx="473.5" cy="372.5" r="2.6" fill="#d9d9d9" stroke="#111" stroke-width="0.95"/>
<circle cx="478.1" cy="373.6" r="2.6" fill="#d9d9d9" stroke="#111" stroke-width="0.95"/>
<circle cx="482.1" cy="375" r="2.6" fill="#d9d9d9" stroke="#111" stroke-width="0.95"/>
<circle cx="469.7" cy="376.8" r="2.6" fill="#d9d9d9" stroke="#111" stroke-width="0.95"/>
<circle cx="485.3" cy="380.1" r="2.6" fill="#d9d9d9" stroke="#111" stroke-width="0.95"/>
<circle cx="472.9" cy="380.6" r="2.6" fill="#d9d9d9" stroke="#111" stroke-width="0.95"/>
<circle cx="472.9" cy="382.8" r="2.6" fill="#d9d9d9" stroke="#111" stroke-width="0.95"/>
<circle cx="453" cy="372.8" r="2.6" fill="#d9d9d9" stroke="#111" stroke-width="0.95"/>
<circle cx="492.1" cy="377.2" r="2.6" fill="#d9d9d9" stroke="#111" stroke-width="0.95"/>
<circle cx="495.6" cy="377.4" r="2.6" fill="#d9d9d9" stroke="#111" stroke-width="0.95"/>
<circle cx="497" cy="381.1" r="2.6" fill="#d9d9d9" stroke="#111" stroke-width="0.95"/>
<circle cx="467.2" cy="390.9" r="2.6" fill="#d9d9d9" stroke="#111" stroke-width="0.95"/>
<circle cx="472.6" cy="394.9" r="2.6" fill="#d9d9d9" stroke="#111" stroke-width="0.95"/>
<circle cx="490.9" cy="397.3" r="2.6" fill="#d9d9d9" stroke="#111" stroke-width="0.95"/>
<circle cx="436.1" cy="381.3" r="2.6" fill="#d9d9d9" stroke="#111" stroke-width="0.95"/>
<circle cx="438.8" cy="382.9" r="2.6" fill="#d9d9d9" stroke="#111" stroke-width="0.95"/>
<circle cx="507.2" cy="366.2" r="2.6" fill="#d9d9d9" stroke="#111" stroke-width="0.95"/>
<circle cx="516.4" cy="375.4" r="2.6" fill="#d9d9d9" stroke="#111" stroke-width="0.95"/>
<circle cx="499.6" cy="396.5" r="2.6" fill="#d9d9d9" stroke="#111" stroke-width="0.95"/>
<circle cx="501.8" cy="404" r="2.6" fill="#d9d9d9" stroke="#111" stroke-width="0.95"/>
<circle cx="518.7" cy="401.5" r="2.6" fill="#d9d9d9" stroke="#111" stroke-width="0.95"/>
<circle cx="523.8" cy="404" r="2.6" fill="#d9d9d9" stroke="#111" stroke-width="0.95"/>
<circle cx="513.4" cy="412.3" r="2.6" fill="#d9d9d9" stroke="#111" stroke-width="0.95"/>
<circle cx="539.9" cy="417.3" r="2.6" fill="#d9d9d9" stroke="#111" stroke-width="0.95"/>
<circle cx="464.8" cy="406.5" r="2.6" fill="#d9d9d9" stroke="#111" stroke-width="0.95"/>
<circle cx="479.9" cy="407.3" r="2.6" fill="#d9d9d9" stroke="#111" stroke-width="0.95"/>
<circle cx="488.8" cy="411.7" r="2.6" fill="#d9d9d9" stroke="#111" stroke-width="0.95"/>
<circle cx="488.8" cy="423.7" r="2.6" fill="#d9d9d9" stroke="#111" stroke-width="0.95"/>
<circle cx="487.5" cy="421.6" r="2.6" fill="#d9d9d9" stroke="#111" stroke-width="0.95"/>
<circle cx="496.9" cy="384.2" r="2.6" fill="#d9d9d9" stroke="#111" stroke-width="0.95"/>
<circle cx="427.2" cy="394.8" r="2.6" fill="#474747" stroke="#111" stroke-width="0.95"/>
<circle cx="425.3" cy="404.5" r="2.6" fill="#474747" stroke="#111" stroke-width="0.95"/>
<circle cx="431.6" cy="407.7" r="2.6" fill="#474747" stroke="#111" stroke-width="0.95"/>
<circle cx="436.1" cy="398.6" r="2.6" fill="#474747" stroke="#111" stroke-width="0.95"/>
<circle cx="438.8" cy="400.2" r="2.6" fill="#474747" stroke="#111" stroke-width="0.95"/>
<circle cx="421" cy="409.3" r="2.6" fill="#474747" stroke="#111" stroke-width="0.95"/>
<circle cx="444.1" cy="388" r="2.6" fill="#474747" stroke="#111" stroke-width="0.95"/>
<circle cx="458.3" cy="403.3" r="2.6" fill="#474747" stroke="#111" stroke-width="0.95"/>
<circle cx="458.1" cy="403.8" r="2.6" fill="#474747" stroke="#111" stroke-width="0.95"/>
<circle cx="457.8" cy="406.5" r="2.6" fill="#474747" stroke="#111" stroke-width="0.95"/>
<circle cx="462.1" cy="411.9" r="2.6" fill="#474747" stroke="#111" stroke-width="0.95"/>
<circle cx="474.5" cy="412.7" r="2.6" fill="#474747" stroke="#111" stroke-width="0.95"/>
<circle cx="472.4" cy="414.6" r="2.6" fill="#474747" stroke="#111" stroke-width="0.95"/>
<circle cx="477" cy="418.9" r="2.6" fill="#474747" stroke="#111" stroke-width="0.95"/>
<circle cx="445.4" cy="412.7" r="2.6" fill="#474747" stroke="#111" stroke-width="0.95"/>
<circle cx="441.6" cy="412.4" r="2.6" fill="#474747" stroke="#111" stroke-width="0.95"/>
<circle cx="442.2" cy="416.2" r="2.6" fill="#474747" stroke="#111" stroke-width="0.95"/>
<circle cx="445.9" cy="419.4" r="2.6" fill="#474747" stroke="#111" stroke-width="0.95"/>
<circle cx="449.2" cy="419.4" r="2.6" fill="#474747" stroke="#111" stroke-width="0.95"/>
<circle cx="442.7" cy="421" r="2.6" fill="#474747" stroke="#111" stroke-width="0.95"/>
<circle cx="444.3" cy="426.4" r="2.6" fill="#474747" stroke="#111" stroke-width="0.95"/>
<circle cx="453" cy="428.6" r="2.6" fill="#474747" stroke="#111" stroke-width="0.95"/>
<circle cx="450.8" cy="432.4" r="2.6" fill="#474747" stroke="#111" stroke-width="0.95"/>
<circle cx="456.2" cy="427" r="2.6" fill="#474747" stroke="#111" stroke-width="0.95"/>
<circle cx="467.5" cy="425.5" r="2.6" fill="#474747" stroke="#111" stroke-width="0.95"/>
<circle cx="435.8" cy="443.5" r="2.6" fill="#474747" stroke="#111" stroke-width="0.95"/>
<circle cx="441.7" cy="443" r="2.6" fill="#474747" stroke="#111" stroke-width="0.95"/>
<circle cx="445.7" cy="445.7" r="2.6" fill="#474747" stroke="#111" stroke-width="0.95"/>
<circle cx="449.3" cy="443.5" r="2.6" fill="#474747" stroke="#111" stroke-width="0.95"/>
<circle cx="452" cy="440.8" r="2.6" fill="#474747" stroke="#111" stroke-width="0.95"/>
<circle cx="451.1" cy="446.6" r="2.6" fill="#474747" stroke="#111" stroke-width="0.95"/>
<circle cx="453.8" cy="448.4" r="2.6" fill="#474747" stroke="#111" stroke-width="0.95"/>
<circle cx="438.1" cy="447.5" r="2.6" fill="#474747" stroke="#111" stroke-width="0.95"/>
<circle cx="440.8" cy="451.6" r="2.6" fill="#474747" stroke="#111" stroke-width="0.95"/>
<circle cx="439.9" cy="457.9" r="2.6" fill="#474747" stroke="#111" stroke-width="0.95"/>
<circle cx="445.7" cy="459.7" r="2.6" fill="#474747" stroke="#111" stroke-width="0.95"/>
<circle cx="454.3" cy="452" r="2.6" fill="#474747" stroke="#111" stroke-width="0.95"/>
<circle cx="457" cy="453.4" r="2.6" fill="#474747" stroke="#111" stroke-width="0.95"/>
<circle cx="461" cy="452.9" r="2.6" fill="#474747" stroke="#111" stroke-width="0.95"/>
<circle cx="461" cy="445.7" r="2.6" fill="#474747" stroke="#111" stroke-width="0.95"/>
<circle cx="465.5" cy="444.8" r="2.6" fill="#474747" stroke="#111" stroke-width="0.95"/>
<circle cx="466" cy="449.8" r="2.6" fill="#474747" stroke="#111" stroke-width="0.95"/>
<circle cx="468.2" cy="454.3" r="2.6" fill="#474747" stroke="#111" stroke-width="0.95"/>
<circle cx="461.6" cy="445.3" r="2.6" fill="#474747" stroke="#111" stroke-width="0.95"/>
<circle cx="464.8" cy="444.8" r="2.6" fill="#474747" stroke="#111" stroke-width="0.95"/>
<circle cx="470.8" cy="444.2" r="2.6" fill="#474747" stroke="#111" stroke-width="0.95"/>
<circle cx="450.8" cy="450.7" r="2.6" fill="#474747" stroke="#111" stroke-width="0.95"/>
<circle cx="457.3" cy="451.8" r="2.6" fill="#474747" stroke="#111" stroke-width="0.95"/>
<circle cx="463.7" cy="451.8" r="2.6" fill="#474747" stroke="#111" stroke-width="0.95"/>
<circle cx="467" cy="454" r="2.6" fill="#474747" stroke="#111" stroke-width="0.95"/>
<circle cx="441.1" cy="450.7" r="2.6" fill="#474747" stroke="#111" stroke-width="0.95"/>
<circle cx="446.5" cy="454" r="2.6" fill="#474747" stroke="#111" stroke-width="0.95"/>
<circle cx="499.7" cy="443" r="2.6" fill="#474747" stroke="#111" stroke-width="0.95"/>
<circle cx="454" cy="456.1" r="2.6" fill="#474747" stroke="#111" stroke-width="0.95"/>
<circle cx="461.6" cy="456.1" r="2.6" fill="#474747" stroke="#111" stroke-width="0.95"/>
<circle cx="404.9" cy="412.6" r="2.6" fill="#474747" stroke="#111" stroke-width="0.95"/>
<circle cx="421.1" cy="410.8" r="2.6" fill="#474747" stroke="#111" stroke-width="0.95"/>
<circle cx="421.5" cy="413.5" r="2.6" fill="#474747" stroke="#111" stroke-width="0.95"/>
<circle cx="422.9" cy="424.7" r="2.6" fill="#474747" stroke="#111" stroke-width="0.95"/>
<circle cx="419.5" cy="428.6" r="2.6" fill="#474747" stroke="#111" stroke-width="0.95"/>
<circle cx="423.8" cy="431.5" r="2.6" fill="#474747" stroke="#111" stroke-width="0.95"/>
<circle cx="436.8" cy="421.6" r="2.6" fill="#474747" stroke="#111" stroke-width="0.95"/>
<circle cx="435.9" cy="427.4" r="2.6" fill="#474747" stroke="#111" stroke-width="0.95"/>
<circle cx="426.5" cy="442.7" r="2.6" fill="#474747" stroke="#111" stroke-width="0.95"/>
<circle cx="411.6" cy="446.8" r="2.6" fill="#474747" stroke="#111" stroke-width="0.95"/>
<circle cx="435.9" cy="443.6" r="2.6" fill="#474747" stroke="#111" stroke-width="0.95"/>
<circle cx="439.5" cy="400.9" r="2.6" fill="#474747" stroke="#111" stroke-width="0.95"/>
<circle cx="434.6" cy="456.5" r="2.6" fill="#474747" stroke="#111" stroke-width="0.95"/>
<circle cx="438.2" cy="465.1" r="2.6" fill="#474747" stroke="#111" stroke-width="0.95"/>
<circle cx="442.5" cy="463" r="2.6" fill="#474747" stroke="#111" stroke-width="0.95"/>
<circle cx="445.4" cy="459.4" r="2.6" fill="#474747" stroke="#111" stroke-width="0.95"/>
<circle cx="452.6" cy="463" r="2.6" fill="#474747" stroke="#111" stroke-width="0.95"/>
<circle cx="449.7" cy="463" r="2.6" fill="#474747" stroke="#111" stroke-width="0.95"/>
<circle cx="472.7" cy="473.8" r="2.6" fill="#474747" stroke="#111" stroke-width="0.95"/>
<circle cx="465.1" cy="445.1" r="2.6" fill="#474747" stroke="#111" stroke-width="0.95"/>
<circle cx="461.5" cy="445.8" r="2.6" fill="#474747" stroke="#111" stroke-width="0.95"/>
<circle cx="465.8" cy="450.1" r="2.6" fill="#474747" stroke="#111" stroke-width="0.95"/>
<circle cx="468.7" cy="455.2" r="2.6" fill="#474747" stroke="#111" stroke-width="0.95"/>
<circle cx="460.8" cy="453" r="2.6" fill="#474747" stroke="#111" stroke-width="0.95"/>
<circle cx="403.6" cy="463.7" r="2.6" fill="#000000" stroke="#111" stroke-width="0.95"/>
<circle cx="410.8" cy="467.3" r="2.6" fill="#000000" stroke="#111" stroke-width="0.95"/>
<circle cx="418.3" cy="459.7" r="2.6" fill="#000000" stroke="#111" stroke-width="0.95"/>
<circle cx="429.5" cy="462" r="2.6" fill="#000000" stroke="#111" stroke-width="0.95"/>
<circle cx="430.7" cy="463.7" r="2.6" fill="#000000" stroke="#111" stroke-width="0.95"/>
<circle cx="436" cy="473.8" r="2.6" fill="#000000" stroke="#111" stroke-width="0.95"/>
<circle cx="438.2" cy="473.5" r="2.6" fill="#000000" stroke="#111" stroke-width="0.95"/>
<circle cx="407.2" cy="482.4" r="2.6" fill="#000000" stroke="#111" stroke-width="0.95"/>
<circle cx="409.4" cy="482.4" r="2.6" fill="#000000" stroke="#111" stroke-width="0.95"/>
<circle cx="417.7" cy="479.1" r="2.6" fill="#000000" stroke="#111" stroke-width="0.95"/>
<circle cx="420.2" cy="482.7" r="2.6" fill="#000000" stroke="#111" stroke-width="0.95"/>
<circle cx="434.1" cy="490" r="2.6" fill="#000000" stroke="#111" stroke-width="0.95"/>
<circle cx="451.1" cy="483.6" r="2.6" fill="#000000" stroke="#111" stroke-width="0.95"/>
<circle cx="473.4" cy="458" r="2.6" fill="#000000" stroke="#111" stroke-width="0.95"/>
<circle cx="453.5" cy="413.8" r="2.6" fill="#000000" stroke="#111" stroke-width="0.95"/>
<circle cx="453.5" cy="421" r="2.6" fill="#000000" stroke="#111" stroke-width="0.95"/>
<circle cx="457.5" cy="418.9" r="2.6" fill="#000000" stroke="#111" stroke-width="0.95"/>
<circle cx="464" cy="421" r="2.6" fill="#000000" stroke="#111" stroke-width="0.95"/>
<circle cx="461.7" cy="427" r="2.6" fill="#000000" stroke="#111" stroke-width="0.95"/>
<circle cx="465.7" cy="428.1" r="2.6" fill="#000000" stroke="#111" stroke-width="0.95"/>
<circle cx="462.7" cy="434" r="2.6" fill="#000000" stroke="#111" stroke-width="0.95"/>
<circle cx="455.6" cy="441" r="2.6" fill="#000000" stroke="#111" stroke-width="0.95"/>
<circle cx="473.5" cy="445.9" r="2.6" fill="#000000" stroke="#111" stroke-width="0.95"/>
<circle cx="494.1" cy="452" r="2.6" fill="#000000" stroke="#111" stroke-width="0.95"/>
<circle cx="444.9" cy="455.6" r="2.6" fill="#000000" stroke="#111" stroke-width="0.95"/>
<circle cx="474.5" cy="456.7" r="2.6" fill="#000000" stroke="#111" stroke-width="0.95"/>
<circle cx="462.2" cy="434.3" r="2.6" fill="#000000" stroke="#111" stroke-width="0.95"/>
<circle cx="473.4" cy="446.1" r="2.6" fill="#000000" stroke="#111" stroke-width="0.95"/>
<circle cx="492.4" cy="490.4" r="2.6" fill="#000000" stroke="#111" stroke-width="0.95"/>
<circle cx="456.4" cy="440.8" r="2.6" fill="#000000" stroke="#111" stroke-width="0.95"/>
<circle cx="357.9" cy="339.0" r="2.6" fill="#e8461a" stroke="#111" stroke-width="0.95"/>
<circle cx="362.8" cy="338.1" r="2.6" fill="#e8461a" stroke="#111" stroke-width="0.95"/>
<circle cx="345.5" cy="351.9" r="2.6" fill="#e8461a" stroke="#111" stroke-width="0.95"/>
<circle cx="334.9" cy="357.5" r="2.6" fill="#e8461a" stroke="#111" stroke-width="0.95"/>
<circle cx="352.8" cy="363.5" r="2.6" fill="#e8461a" stroke="#111" stroke-width="0.95"/>
<circle cx="347.1" cy="369.9" r="2.6" fill="#e8461a" stroke="#111" stroke-width="0.95"/>
<circle cx="357.9" cy="367.8" r="2.6" fill="#e8461a" stroke="#111" stroke-width="0.95"/>
<circle cx="341.4" cy="379.1" r="2.6" fill="#e8461a" stroke="#111" stroke-width="0.95"/>
<circle cx="374.1" cy="379.9" r="2.6" fill="#e8461a" stroke="#111" stroke-width="0.95"/>
<circle cx="376.3" cy="381.3" r="2.6" fill="#e8461a" stroke="#111" stroke-width="0.95"/>
<circle cx="385.2" cy="378.3" r="2.6" fill="#e8461a" stroke="#111" stroke-width="0.95"/>
<circle cx="373.8" cy="390.8" r="2.6" fill="#e8461a" stroke="#111" stroke-width="0.95"/>
<circle cx="373" cy="394" r="2.6" fill="#e8461a" stroke="#111" stroke-width="0.95"/>
<circle cx="370.2" cy="418.8" r="2.6" fill="#e8461a" stroke="#111" stroke-width="0.95"/>
<circle cx="358.5" cy="365.1" r="2.6" fill="#2ea01e" stroke="#111" stroke-width="0.95"/>
<circle cx="361.7" cy="365.9" r="2.6" fill="#2ea01e" stroke="#111" stroke-width="0.95"/>
<circle cx="363.8" cy="367.8" r="2.6" fill="#2ea01e" stroke="#111" stroke-width="0.95"/>
<circle cx="383" cy="394.5" r="2.6" fill="#2ea01e" stroke="#111" stroke-width="0.95"/>
<circle cx="382.6" cy="404" r="2.6" fill="#2ea01e" stroke="#111" stroke-width="0.95"/>
<circle cx="389.6" cy="405.6" r="2.6" fill="#2ea01e" stroke="#111" stroke-width="0.95"/>
<circle cx="387.8" cy="407.6" r="2.6" fill="#2ea01e" stroke="#111" stroke-width="0.95"/>
<circle cx="386.9" cy="408.9" r="2.6" fill="#2ea01e" stroke="#111" stroke-width="0.95"/>
<circle cx="380.1" cy="410.5" r="2.6" fill="#2ea01e" stroke="#111" stroke-width="0.95"/>
<circle cx="395.9" cy="413.4" r="2.6" fill="#2ea01e" stroke="#111" stroke-width="0.95"/>
<circle cx="396.8" cy="418.8" r="2.6" fill="#2ea01e" stroke="#111" stroke-width="0.95"/>
<circle cx="393.2" cy="420.2" r="2.6" fill="#2ea01e" stroke="#111" stroke-width="0.95"/>
<circle cx="389.6" cy="424" r="2.6" fill="#2ea01e" stroke="#111" stroke-width="0.95"/>
<circle cx="384.6" cy="422.9" r="2.6" fill="#2ea01e" stroke="#111" stroke-width="0.95"/>
<circle cx="396.8" cy="431" r="2.6" fill="#2ea01e" stroke="#111" stroke-width="0.95"/>
<circle cx="360.1" cy="415.2" r="2.6" fill="#2ea01e" stroke="#111" stroke-width="0.95"/>
<circle cx="357.6" cy="422" r="2.6" fill="#2ea01e" stroke="#111" stroke-width="0.95"/>
<circle cx="364.8" cy="418.8" r="2.6" fill="#2ea01e" stroke="#111" stroke-width="0.95"/>
<circle cx="367.5" cy="422.4" r="2.6" fill="#2ea01e" stroke="#111" stroke-width="0.95"/>
<circle cx="362.6" cy="424.7" r="2.6" fill="#2ea01e" stroke="#111" stroke-width="0.95"/>
<circle cx="374.3" cy="417.5" r="2.6" fill="#2ea01e" stroke="#111" stroke-width="0.95"/>
<circle cx="376.1" cy="420.6" r="2.6" fill="#2ea01e" stroke="#111" stroke-width="0.95"/>
<circle cx="372" cy="420.6" r="2.6" fill="#2ea01e" stroke="#111" stroke-width="0.95"/>
<circle cx="373.8" cy="424.7" r="2.6" fill="#2ea01e" stroke="#111" stroke-width="0.95"/>
<circle cx="372.5" cy="437.7" r="2.6" fill="#2ea01e" stroke="#111" stroke-width="0.95"/>
<circle cx="371.6" cy="440.4" r="2.6" fill="#2ea01e" stroke="#111" stroke-width="0.95"/>
<circle cx="370.2" cy="443.6" r="2.6" fill="#2ea01e" stroke="#111" stroke-width="0.95"/>
<circle cx="396.8" cy="444.5" r="2.6" fill="#2ea01e" stroke="#111" stroke-width="0.95"/>
<circle cx="396.4" cy="387" r="2.6" fill="#2ea01e" stroke="#111" stroke-width="0.95"/>
<circle cx="408" cy="429.7" r="2.6" fill="#2ea01e" stroke="#111" stroke-width="0.95"/>
<circle cx="407.1" cy="433.3" r="2.6" fill="#2ea01e" stroke="#111" stroke-width="0.95"/>
<circle cx="419.7" cy="441.8" r="2.6" fill="#2ea01e" stroke="#111" stroke-width="0.95"/>
<circle cx="438" cy="433.5" r="2.6" fill="#2ea01e" stroke="#111" stroke-width="0.95"/>
<circle cx="361.7" cy="449" r="2.6" fill="#2ea01e" stroke="#111" stroke-width="0.95"/>
<circle cx="357" cy="450.1" r="2.6" fill="#2ea01e" stroke="#111" stroke-width="0.95"/>
<circle cx="390.9" cy="449" r="2.6" fill="#2ea01e" stroke="#111" stroke-width="0.95"/>
<circle cx="354.5" cy="465" r="2.6" fill="#2ea01e" stroke="#111" stroke-width="0.95"/>
<circle cx="612.9" cy="296.9" r="3.6" fill="#d9d9d9" stroke="#333" stroke-width="0.8"/>
<text x="623.9" y="300.8" font-size="12.1" textLength="48.8" lengthAdjust="spacingAndGlyphs" fill="#111" stroke="#111" stroke-width="0.1">Group 1</text>
<circle cx="612.9" cy="312.8" r="3.6" fill="#474747" stroke="#333" stroke-width="0.8"/>
<text x="623.9" y="316.4" font-size="12.1" textLength="48.8" lengthAdjust="spacingAndGlyphs" fill="#111" stroke="#111" stroke-width="0.1">Group 2</text>
<circle cx="612.9" cy="327.8" r="3.6" fill="#000000" stroke="#333" stroke-width="0.8"/>
<text x="623.9" y="331.2" font-size="12.1" textLength="48.8" lengthAdjust="spacingAndGlyphs" fill="#111" stroke="#111" stroke-width="0.1">Group 3</text>
<circle cx="612.9" cy="343.9" r="3.6" fill="#2ea01e" stroke="#333" stroke-width="0.8"/>
<text x="623.9" y="347.4" font-size="12.1" textLength="48.8" lengthAdjust="spacingAndGlyphs" fill="#111" stroke="#111" stroke-width="0.1">Group 4</text>
<circle cx="612.9" cy="360.3" r="3.6" fill="#e8461a" stroke="#333" stroke-width="0.8"/>
<text x="623.9" y="363.8" font-size="12.1" textLength="48.8" lengthAdjust="spacingAndGlyphs" fill="#111" stroke="#111" stroke-width="0.1">Group 5</text>
</svg>
</body></html>
